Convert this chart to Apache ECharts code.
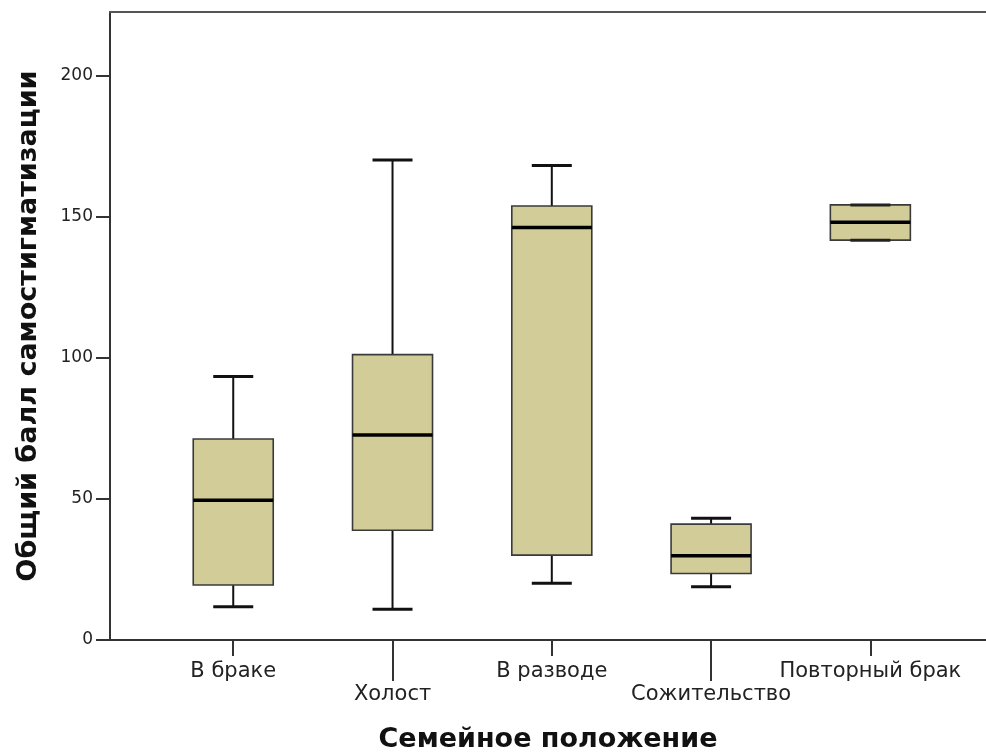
<!DOCTYPE html>
<html><head><meta charset="utf-8">
<script src="https://cdn.jsdelivr.net/npm/echarts@6/dist/echarts.min.js"></script>
<style>html,body{margin:0;padding:0;background:#fff}#c{width:986px;height:753px}</style>
</head><body><div id="c"></div>
<script>
const categories = ['В браке', 'Холост', 'В разводе', 'Сожительство', 'Повторный брак'];
const whiskerLow = [11.8, 10.9, 20.1, 18.9, 141.8];
const q1 = [19.5, 38.9, 30.1, 23.6, 141.8];
const median = [49.6, 72.7, 146.3, 29.9, 148.1];
const q3 = [71.3, 101.2, 153.9, 41.1, 154.3];
const whiskerHigh = [93.4, 170.2, 168.3, 43.2, 154.3];
const yTicks = [0, 50, 100, 150, 200];
const yMax = 222.7;

const FONT = 'DejaVu Sans';
const boxData = categories.map((c, i) => [i, whiskerLow[i], q1[i], median[i], q3[i], whiskerHigh[i]]);

const chart = echarts.init(document.getElementById('c'), null, {renderer: 'canvas'});
chart.setOption({
  animation: false,
  backgroundColor: '#fff',
  grid: [
    {left: 110, right: 0, top: 12, bottom: 113, containLabel: false, outerBoundsMode: 'none'},
    {left: 153.6, right: 36, top: 12, bottom: 113, containLabel: false, outerBoundsMode: 'none'}
  ],
  xAxis: [
    {gridIndex: 0, type: 'value', position: 'bottom', min: 0, max: 1,
     axisLine: {show: true, lineStyle: {color: '#333', width: 2}},
     axisTick: {show: false}, axisLabel: {show: false}, splitLine: {show: false},
     name: 'Семейное положение', nameLocation: 'middle', nameGap: 86,
     nameTextStyle: {fontFamily: FONT, fontSize: 27, fontWeight: 'bold', color: '#111'}},
    {gridIndex: 0, type: 'value', position: 'top', min: 0, max: 1,
     axisLine: {show: true, lineStyle: {color: '#555', width: 2}},
     axisTick: {show: false}, axisLabel: {show: false}, splitLine: {show: false}},
    {gridIndex: 1, type: 'category', position: 'bottom', data: categories,
     axisLine: {show: false},
     axisTick: {show: true, alignWithLabel: true, length: 16, interval: (i) => i % 2 === 0, lineStyle: {color: '#333', width: 2}},
     axisLabel: {interval: (i) => i % 2 === 0, margin: 21, fontFamily: FONT, fontSize: 21, color: '#222'}},
    {gridIndex: 1, type: 'category', position: 'bottom', data: categories,
     axisLine: {show: false},
     axisTick: {show: true, alignWithLabel: true, length: 41, interval: (i) => i % 2 === 1, lineStyle: {color: '#333', width: 2}},
     axisLabel: {interval: (i) => i % 2 === 1, margin: 44, fontFamily: FONT, fontSize: 21, color: '#222'}}
  ],
  yAxis: [
    {gridIndex: 0, type: 'value', min: 0, max: yMax,
     axisLine: {show: true, lineStyle: {color: '#333', width: 2}},
     axisTick: {show: true, length: 14, customValues: yTicks, lineStyle: {color: '#333', width: 2}},
     axisLabel: {customValues: yTicks, margin: 17, fontFamily: FONT, fontSize: 17, color: '#222'},
     splitLine: {show: false},
     name: 'Общий балл самостигматизации', nameLocation: 'middle', nameGap: 68,
     nameTextStyle: {fontFamily: FONT, fontSize: 27, fontWeight: 'bold', color: '#111'}},
    {gridIndex: 1, type: 'value', min: 0, max: yMax, show: false}
  ],
  series: [{
    type: 'custom',
    xAxisIndex: 2, yAxisIndex: 1,
    data: boxData,
    encode: {x: 0, y: [1, 2, 3, 4, 5]},
    renderItem: function (params, api) {
      const i = api.value(0);
      const pLow = api.coord([i, api.value(1)]);
      const pQ1 = api.coord([i, api.value(2)]);
      const pMed = api.coord([i, api.value(3)]);
      const pQ3 = api.coord([i, api.value(4)]);
      const pHigh = api.coord([i, api.value(5)]);
      const x = pMed[0];
      const bw = 40, cw = 20;
      const children = [];
      if (pHigh[1] < pQ3[1] - 0.5) {
        children.push({type: 'line', shape: {x1: x, y1: pQ3[1], x2: x, y2: pHigh[1]}, style: {stroke: '#111', lineWidth: 2}});
        children.push({type: 'line', shape: {x1: x - cw, y1: pHigh[1], x2: x + cw, y2: pHigh[1]}, style: {stroke: '#111', lineWidth: 3}});
      } else {
        children.push({type: 'line', shape: {x1: x - cw, y1: pHigh[1], x2: x + cw, y2: pHigh[1]}, style: {stroke: '#222', lineWidth: 3}, z2: 5});
      }
      if (pLow[1] > pQ1[1] + 0.5) {
        children.push({type: 'line', shape: {x1: x, y1: pQ1[1], x2: x, y2: pLow[1]}, style: {stroke: '#111', lineWidth: 2}});
        children.push({type: 'line', shape: {x1: x - cw, y1: pLow[1], x2: x + cw, y2: pLow[1]}, style: {stroke: '#111', lineWidth: 3}});
      } else {
        children.push({type: 'line', shape: {x1: x - cw, y1: pLow[1], x2: x + cw, y2: pLow[1]}, style: {stroke: '#222', lineWidth: 3}, z2: 5});
      }
      children.push({type: 'rect', shape: {x: x - bw, y: pQ3[1], width: 2 * bw, height: pQ1[1] - pQ3[1]},
        style: {fill: '#d2cd98', stroke: '#3a3a3a', lineWidth: 1.6}, z2: 2});
      children.push({type: 'line', shape: {x1: x - bw, y1: pMed[1], x2: x + bw, y2: pMed[1]},
        style: {stroke: '#000', lineWidth: 3.5}, z2: 6});
      return {type: 'group', children: children};
    }
  }]
});
</script></body></html>
